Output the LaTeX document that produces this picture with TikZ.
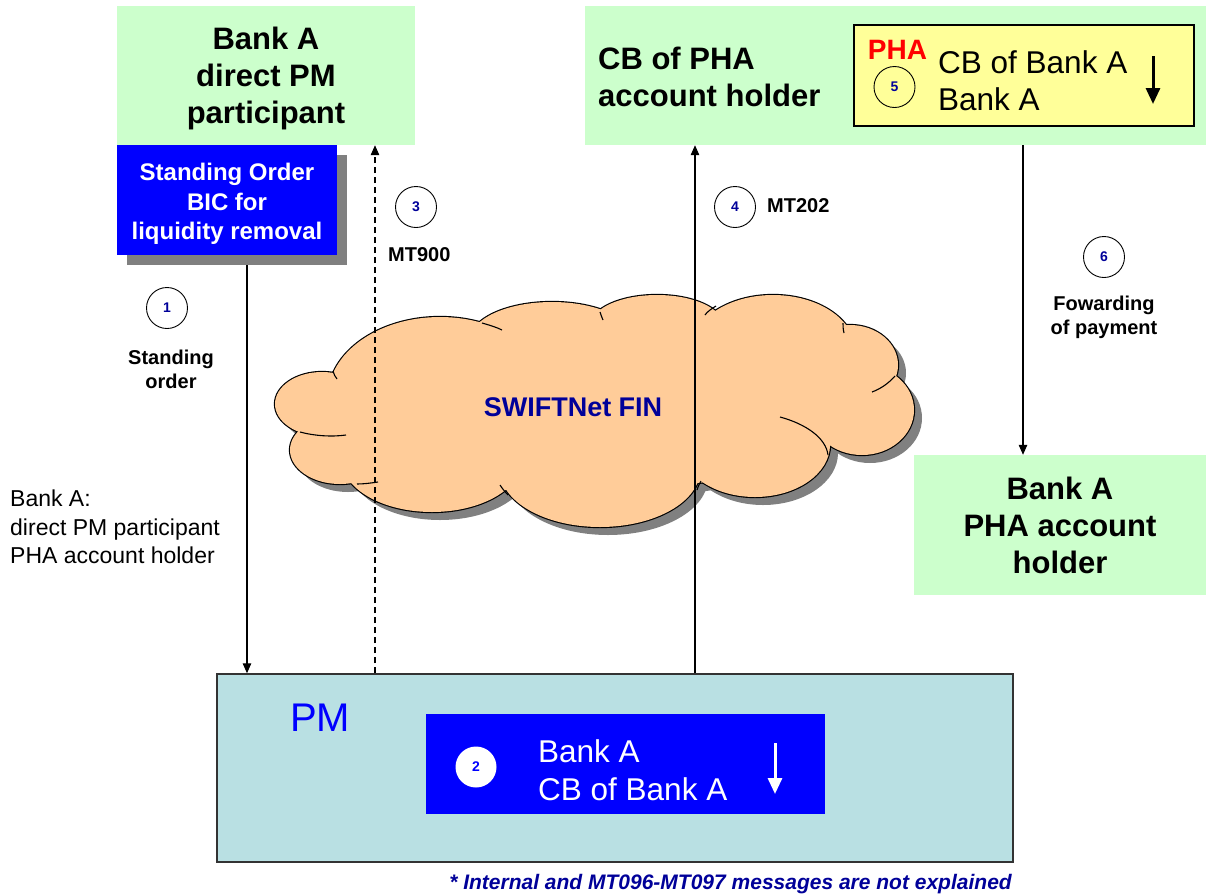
\documentclass[tikz,border=0pt]{standalone}
\usepackage{fontspec}
\setmainfont{Liberation Sans}
\usetikzlibrary{arrows.meta,shadows}

\definecolor{boxgreen}{HTML}{CCFFCC}
\definecolor{sobblue}{HTML}{0000FF}
\definecolor{shadowgray}{HTML}{808080}
\definecolor{noteyellow}{HTML}{FFFF99}
\definecolor{pmteal}{HTML}{B9E0E3}
\definecolor{cloudfill}{HTML}{FFCC99}
\definecolor{numblue}{HTML}{000099}
\definecolor{phared}{HTML}{FF0000}

\begin{document}
\begin{tikzpicture}[x=1pt,y=-1pt,
  greenbox/.style={fill=boxgreen, draw=none, inner sep=0pt, align=center,
    font=\bfseries\fontsize{31}{37}\selectfont},
  numcircle/.style={circle, draw=black, line width=0.9pt, minimum size=41pt, inner sep=0pt,
    font=\bfseries\fontsize{14}{14}\selectfont, text=numblue},
  steplabel/.style={font=\bfseries\fontsize{20}{24}\selectfont, align=center, inner sep=0pt},
  conn/.style={line width=1.2pt, -{Triangle[length=10pt,width=8.5pt]}},
  bigarrow/.style={line width=3pt, -{Triangle[length=16pt,width=14pt]}},
  cloudline/.style={line width=1.1pt, black}
]
\useasboundingbox (0,0) rectangle (1208,895);

% ---------- boxes ----------
\node[greenbox, minimum width=298pt, minimum height=139pt] (bankA) at (266,75.5)
  {\rule{0pt}{29pt}Bank A\\direct PM\\participant};
\node[fill=sobblue, text=white, inner sep=0pt, align=center,
  minimum width=220pt, minimum height=110pt,
  font=\bfseries\fontsize{24}{29.5}\selectfont,
  drop shadow={fill=shadowgray, opacity=1, shadow xshift=10pt, shadow yshift=-10pt}]
  (so) at (227,200) {\rule{0pt}{25.5pt}Standing Order\\BIC for\\liquidity removal};

\node[fill=boxgreen, minimum width=621pt, minimum height=139pt, inner sep=0pt] (cbpha) at (895.5,75.5) {};
\node[anchor=west, align=left, inner sep=0pt, font=\bfseries\fontsize{31}{37}\selectfont]
  (cbphatext) at (598,77) {CB of PHA\\account holder};
\node[fill=noteyellow, draw=black, line width=1.2pt, minimum width=340pt, minimum height=101pt, inner sep=0pt]
  (yellow) at (1024,75.5) {};
\node[text=phared, inner sep=0pt, font=\bfseries\fontsize{28}{28}\selectfont] (pha) at (897.5,50) {PHA};
\node[numcircle] (n5) at (894.5,87) {5};
\node[anchor=west, align=left, inner sep=0pt, font=\fontsize{31.5}{37}\selectfont]
  (yellowtext) at (938,81) {CB of Bank A\\Bank A};
\draw[bigarrow] (1153,56) -- (1153,104);

\node[greenbox, minimum width=292pt, minimum height=140pt] (bankPHA) at (1060,525)
  {Bank A\\PHA account\\holder};

% ---------- cloud ----------
\def\puffs{322/404/47/32, 340/450/50/34, 440/397/112/80, 552/340/82/38, 657/325/66/30,
  773/350/82/55, 850/365/48/40, 862/410/52/45, 755/445/75/52, 600/470/100/57,
  432/460/90/52, 600/410/240/80}
\foreach \cx/\cy/\rx/\ry in \puffs {
  \fill[shadowgray] (\cx+8,\cy+8) ellipse [x radius=\rx, y radius=\ry];
}
\foreach \cx/\cy/\rx/\ry in \puffs {
  \draw[line width=2.3pt] (\cx,\cy) ellipse [x radius=\rx, y radius=\ry];
}
\foreach \cx/\cy/\rx/\ry in \puffs {
  \fill[cloudfill] (\cx,\cy) ellipse [x radius=\rx, y radius=\ry];
}
\draw[cloudline] (300,432) .. controls (315,436) and (332,437) .. (346,435);
\draw[cloudline] (333,371) .. controls (334,374) and (335,377) .. (337,379);
\draw[cloudline] (482,323) .. controls (489,325) and (496,327) .. (502,330);
\draw[cloudline] (600,312) .. controls (601,315) and (602,318) .. (603,320);
\draw[cloudline] (716,306) .. controls (711,309) and (707,312) .. (705,315);
\draw[cloudline] (843,323) .. controls (843,326) and (843,329) .. (844,333);
\draw[cloudline] (895,376) .. controls (888,384) and (880,389) .. (872,392);
\draw[cloudline] (828,455) .. controls (826,438) and (806,424) .. (780,417);
\draw[cloudline] (697,490) .. controls (698,487) and (699,484) .. (701,481);
\draw[cloudline] (508,495) .. controls (505,492) and (502,488) .. (500,485);
\draw[cloudline] (357,484) .. controls (364,484) and (371,483) .. (378,482);
\node[font=\bfseries\fontsize{27}{27}\selectfont, text=numblue, inner sep=0pt] (swift) at (573,407) {SWIFTNet FIN};

% ---------- PM ----------
\node[fill=pmteal, draw=black!80, line width=1.5pt, minimum width=796pt, minimum height=188pt, inner sep=0pt]
  (pm) at (615,768) {};
\node[text=sobblue, inner sep=0pt, font=\fontsize{40}{40}\selectfont] (pmlabel) at (320,718) {PM};
\node[fill=sobblue, minimum width=399pt, minimum height=100pt, inner sep=0pt] (inner) at (625.5,764) {};
\node[numcircle, fill=white, draw=none, text=sobblue] (n2) at (476,767) {2};
\node[anchor=west, align=left, inner sep=0pt, text=white, font=\fontsize{31.5}{38}\selectfont]
  (innertext) at (538,770) {Bank A\\CB of Bank A};
\draw[bigarrow, white] (775,743) -- (775,794);

% ---------- connectors ----------
\coordinate (x1) at (247,265);
\coordinate (x3) at (375,0);
\coordinate (x4) at (695,0);
\coordinate (x6) at (1023,0);
\draw[conn] (x1) -- (x1 |- pm.north);
\draw[conn, dash pattern=on 6pt off 4pt] (x3 |- pm.north) -- (x3 |- bankA.south);
\draw[conn] (x4 |- pm.north) -- (x4 |- cbpha.south);
\draw[conn] (x6 |- cbpha.south) -- (x6 |- bankPHA.north);

% ---------- step markers and labels ----------
\node[numcircle] (n1) at (167,308) {1};
\node[steplabel] (l1) at (171,369) {Standing\\order};
\node[numcircle] (n3) at (416,207) {3};
\node[steplabel, anchor=west] (l3) at (388,255) {MT900};
\node[numcircle] (n4) at (735,207) {4};
\node[steplabel, anchor=west] (l4) at (767,206) {MT202};
\node[numcircle] (n6) at (1104,257) {6};
\node[steplabel] (l6) at (1104,317) {Fowarding\\of payment};

\node[anchor=west, align=left, inner sep=0pt, font=\fontsize{23}{28.5}\selectfont]
  (bankAnote) at (10,527) {Bank A:\\direct PM participant\\PHA account holder};

\node[anchor=base east, inner sep=0pt, text=numblue, font=\bfseries\itshape\fontsize{21}{21}\selectfont]
  (note) at (1012,889) {* Internal and MT096-MT097 messages are not explained};
\end{tikzpicture}
\end{document}
